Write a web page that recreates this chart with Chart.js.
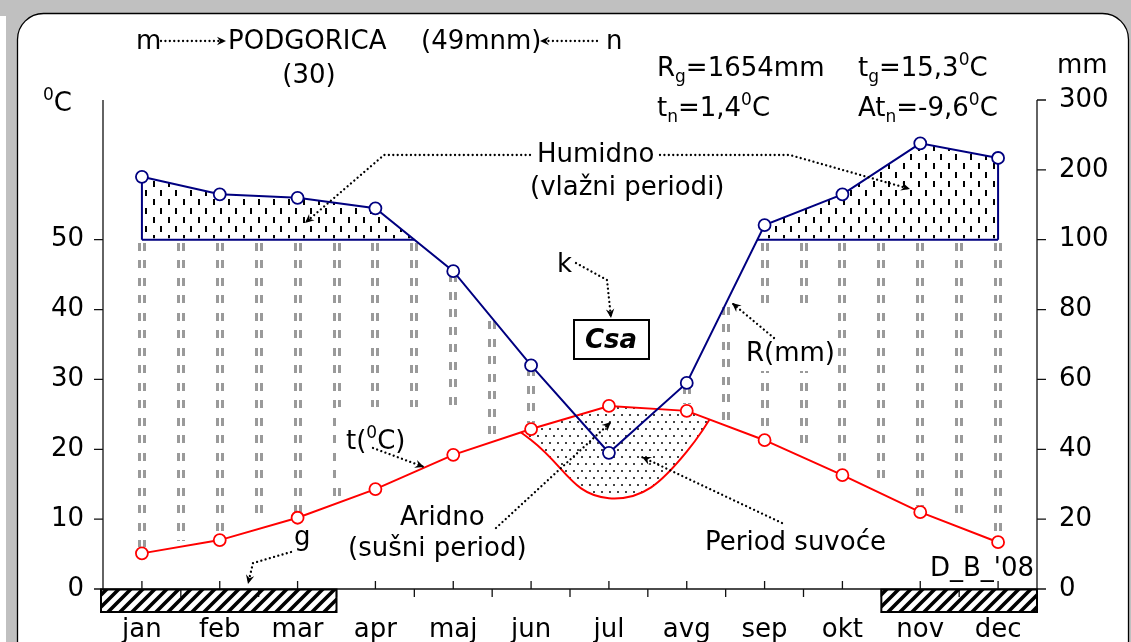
<!DOCTYPE html>
<html><head><meta charset="utf-8">
<script src="https://cdn.jsdelivr.net/npm/chart.js@4.4.1/dist/chart.umd.min.js"></script>
<style>html,body{margin:0;padding:0;background:#c0c0c0;overflow:hidden}canvas{display:block}</style>
</head><body>
<canvas id="c" width="1131" height="642"></canvas>
<script>
// ---- data ----
const months = ['jan','feb','mar','apr','maj','jun','jul','avg','sep','okt','nov','dec'];
const temperature = [5.1, 7.0, 10.2, 14.3, 19.2, 22.9, 26.2, 25.5, 21.3, 16.3, 11.0, 6.7];   // °C
const precipitation = [190, 165, 160, 145, 91, 64, 39, 59, 121, 165, 238, 217];             // mm
const frostMonths = ['jan','feb','mar','nov','dec'];
const tempTicks = [0, 10, 20, 30, 40, 50];
const precipTicks = [0, 20, 40, 60, 80, 100, 200, 300];

// Walter-Lieth scale: 20 mm = 10 °C up to 100 mm, above that 100 mm = 10 °C
const mmToUnits = p => p <= 100 ? p / 2 : 50 + (p - 100) / 10;
const precipUnits = precipitation.map(mmToUnits);
const dryCurve = precipitation.map(p => p / 3);   // 1 °C = 3 mm curve (drought period)

const FONT = 'DejaVu Sans';
Chart.defaults.font.family = FONT;
Chart.defaults.color = '#000';

function makePattern(w, h, draw) {
  const c = document.createElement('canvas'); c.width = w; c.height = h;
  const g = c.getContext('2d'); draw(g);
  return g.createPattern(c, 'repeat');
}
const ctx0 = document.getElementById('c').getContext('2d');
const humidPattern = makePattern(15, 18, g => { g.fillStyle = '#000'; g.fillRect(3, 1, 2, 6); g.fillRect(10, 10, 2, 6); });
const dotPattern = makePattern(8, 14, g => { g.fillStyle = '#444'; g.fillRect(1, 1, 2, 2); g.fillRect(5, 8, 2, 2); });
const frostPattern = makePattern(12, 12, g => {
  g.strokeStyle = '#000'; g.lineWidth = 3.6; g.beginPath();
  g.moveTo(-3, 15); g.lineTo(15, -3); g.moveTo(-3, 3); g.lineTo(3, -3); g.moveTo(9, 15); g.lineTo(15, 9); g.stroke();
});

function rich(ctx, x, y, parts, size) {
  size = size || 26;
  let cx = x;
  for (const p of parts) {
    let fs = size, dy = 0;
    if (p.s === 'sub') { fs = 17; dy = 6; }
    if (p.s === 'sup') { fs = 17; dy = -11; }
    ctx.font = (p.f || '') + fs + 'px "' + FONT + '"';
    ctx.fillText(p.t, cx, y + dy);
    cx += ctx.measureText(p.t).width;
  }
}
function text(ctx, t, x, y, align) {
  ctx.font = '26px "' + FONT + '"'; ctx.textAlign = align || 'left'; ctx.fillText(t, x, y); ctx.textAlign = 'left';
}
function arrowHead(ctx, x1, y1, x2, y2) {
  const a = Math.atan2(y2 - y1, x2 - x1), L = 9, W = 4.2;
  ctx.save(); ctx.translate(x2, y2); ctx.rotate(a);
  ctx.beginPath(); ctx.moveTo(0, 0); ctx.lineTo(-L, -W); ctx.lineTo(-L + 3, 0); ctx.lineTo(-L, W); ctx.closePath();
  ctx.fillStyle = '#000'; ctx.fill(); ctx.restore();
}
function dotted(ctx, pts, arrow) {
  ctx.save(); ctx.strokeStyle = '#000'; ctx.lineWidth = 2.3; ctx.lineCap = 'round'; ctx.setLineDash([0.01, 4.4]);
  ctx.beginPath(); ctx.moveTo(pts[0][0], pts[0][1]);
  for (let i = 1; i < pts.length; i++) ctx.lineTo(pts[i][0], pts[i][1]);
  ctx.stroke(); ctx.setLineDash([]);
  if (arrow) { const n = pts.length; arrowHead(ctx, pts[n - 2][0], pts[n - 2][1], pts[n - 1][0], pts[n - 1][1]); }
  ctx.restore();
}

const deco = {
  id: 'deco',
  beforeDraw(chart) {
    const ctx = chart.ctx, W = chart.width, H = chart.height;
    ctx.save();
    ctx.fillStyle = '#c0c0c0'; ctx.fillRect(0, 0, W, H);
    ctx.fillStyle = '#fff'; ctx.fillRect(0, 16, 6, H);
    const x = 17.5, y = 13.5, w = 1111, h = 700, r = 26;
    ctx.beginPath();
    ctx.moveTo(x + r, y); ctx.lineTo(x + w - r, y); ctx.arcTo(x + w, y, x + w, y + r, r);
    ctx.lineTo(x + w, y + h); ctx.lineTo(x, y + h); ctx.lineTo(x, y + r); ctx.arcTo(x, y, x + r, y, r); ctx.closePath();
    ctx.fillStyle = '#fff'; ctx.fill(); ctx.strokeStyle = '#000'; ctx.lineWidth = 1.3; ctx.stroke();
    ctx.restore();
  },
  beforeDatasetsDraw(chart) {
    // humid period: gray double dashed lines between precipitation (max 100 mm) and temperature
    const ctx = chart.ctx, ys = chart.scales.y;
    const pm = chart.getDatasetMeta(0).data, tm = chart.getDatasetMeta(1).data;
    const y50 = ys.getPixelForValue(50);
    ctx.save();
    ctx.fillStyle = '#9a9a9a';
    for (let k = 0; k <= 2 * (pm.length - 1); k++) {
      const i = Math.floor(k / 2), half = k % 2;
      const x = Math.round(half ? (pm[i].x + pm[i + 1].x) / 2 : pm[i].x);
      const yp = half ? (pm[i].y + pm[i + 1].y) / 2 : pm[i].y;
      const yt = half ? (tm[i].y + tm[i + 1].y) / 2 : tm[i].y;
      const top = Math.max(yp, y50) + 3, bot = yt - 6;
      for (let yy = top; yy < bot; yy += 17.5) {
        const hgt = Math.min(8, bot - yy);
        ctx.fillRect(x - 4, Math.round(yy), 3, Math.round(hgt));
        ctx.fillRect(x + 1, Math.round(yy), 3, Math.round(hgt));
      }
    }
    ctx.restore();
    // white text boxes of two labels hide the lines behind them
    ctx.save(); ctx.fillStyle = '#fff';
    ctx.fillRect(742, 309, 95, 62);
    ctx.fillRect(338, 407, 125, 72);
    ctx.restore();
  },
  beforeDatasetDraw(chart, args) {
    const ctx = chart.ctx;
    if (args.index === 0) {
      // outline of the humid (>100 mm) area
      const pm = chart.getDatasetMeta(0).data, ys = chart.scales.y, y50 = ys.getPixelForValue(50);
      ctx.save();
      ctx.strokeStyle = '#fff'; ctx.lineWidth = 3; ctx.beginPath();
      ctx.moveTo(pm[0].x, y50); ctx.lineTo(pm[pm.length - 1].x, y50); ctx.stroke();
      ctx.strokeStyle = '#000080'; ctx.lineWidth = 2; ctx.beginPath();
      for (let i = 0; i < pm.length - 1; i++) {
        const a = precipUnits[i] - 50, b = precipUnits[i + 1] - 50;
        if (a >= 0 && b >= 0) { ctx.moveTo(pm[i].x, y50); ctx.lineTo(pm[i + 1].x, y50); }
        else if (a >= 0 || b >= 0) {
          const xc = pm[i].x + (pm[i + 1].x - pm[i].x) * a / (a - b);
          if (a >= 0) { ctx.moveTo(pm[i].x, y50); ctx.lineTo(xc, y50); } else { ctx.moveTo(xc, y50); ctx.lineTo(pm[i + 1].x, y50); }
        }
      }
      const f = pm[0], l = pm[pm.length - 1];
      if (precipUnits[0] > 50) { ctx.moveTo(f.x, y50); ctx.lineTo(f.x, f.y); }
      if (precipUnits[pm.length - 1] > 50) { ctx.moveTo(l.x, y50); ctx.lineTo(l.x, l.y); }
      ctx.stroke(); ctx.restore();
    }
    if (args.index === 2) {
      // the 3 mm curve is shown only below the temperature line
      const tm = chart.getDatasetMeta(1).data, bottom = chart.chartArea.bottom + 40;
      ctx.save(); ctx.beginPath(); ctx.moveTo(tm[0].x, tm[0].y);
      for (let i = 1; i < tm.length; i++) ctx.lineTo(tm[i].x, tm[i].y);
      ctx.lineTo(tm[tm.length - 1].x, bottom); ctx.lineTo(tm[0].x, bottom); ctx.closePath(); ctx.clip();
    }
  },
  afterDatasetDraw(chart, args) { if (args.index === 2) chart.ctx.restore(); },
  afterDatasetsDraw(chart) {
    const ctx = chart.ctx, a = chart.chartArea, xs = chart.scales.x, ys = chart.scales.y;
    const step = xs.getPixelForValue(1) - xs.getPixelForValue(0);
    ctx.save();
    ctx.strokeStyle = '#111'; ctx.lineWidth = 1.3;
    ctx.beginPath();
    ctx.moveTo(a.left, a.top); ctx.lineTo(a.left, a.bottom); ctx.lineTo(a.right, a.bottom);
    ctx.moveTo(a.right, a.top); ctx.lineTo(a.right, a.bottom);
    for (const v of tempTicks) { const y = ys.getPixelForValue(v); ctx.moveTo(a.left - 9, y); ctx.lineTo(a.left, y); }
    for (const p of precipTicks) { const y = ys.getPixelForValue(mmToUnits(p)); ctx.moveTo(a.right, y); ctx.lineTo(a.right + 9, y); }
    for (let i = 0; i < months.length; i++) {
      const x = xs.getPixelForValue(i);
      ctx.moveTo(x, a.bottom); ctx.lineTo(x, a.bottom - 8);
      if (i > 0) { ctx.moveTo(x - step / 2, a.bottom); ctx.lineTo(x - step / 2, a.bottom + 8); }
    }
    ctx.stroke();
    // frost months bars
    let i = 0;
    while (i < months.length) {
      if (frostMonths.includes(months[i])) {
        let j = i; while (j + 1 < months.length && frostMonths.includes(months[j + 1])) j++;
        const x0 = xs.getPixelForValue(i) - step / 2, x1 = xs.getPixelForValue(j) + step / 2;
        const X0 = i === 0 ? x0 - 2 : x0;
        ctx.fillStyle = frostPattern; ctx.fillRect(X0, a.bottom, x1 - X0, 23);
        ctx.strokeStyle = '#000'; ctx.lineWidth = 2; ctx.strokeRect(X0, a.bottom + 0.5, x1 - X0, 22.5);
        i = j + 1;
      } else i++;
    }
    // texts
    ctx.fillStyle = '#000'; ctx.textBaseline = 'alphabetic';
    text(ctx, 'm', 136, 49);
    dotted(ctx, [[161, 41], [226, 41]], true);
    text(ctx, 'PODGORICA', 228, 49);
    text(ctx, '(49mnm)', 421, 49);
    dotted(ctx, [[597, 41], [540, 41]], true);
    text(ctx, 'n', 606, 49);
    text(ctx, '(30)', 309, 83, 'center');
    rich(ctx, 43, 111, [{t: '0', s: 'sup'}, {t: 'C'}]);
    rich(ctx, 657, 76, [{t: 'R'}, {t: 'g', s: 'sub'}, {t: '=1654mm'}]);
    rich(ctx, 858, 76, [{t: 't'}, {t: 'g', s: 'sub'}, {t: '=15,3'}, {t: '0', s: 'sup'}, {t: 'C'}]);
    text(ctx, 'mm', 1057, 73);
    rich(ctx, 657, 116, [{t: 't'}, {t: 'n', s: 'sub'}, {t: '=1,4'}, {t: '0', s: 'sup'}, {t: 'C'}]);
    rich(ctx, 858, 116, [{t: 'At'}, {t: 'n', s: 'sub'}, {t: '=-9,6'}, {t: '0', s: 'sup'}, {t: 'C'}]);
    text(ctx, 'Humidno', 537, 162);
    text(ctx, '(vlažni periodi)', 530, 195);
    dotted(ctx, [[530, 155], [384, 155], [305, 223]], true);
    dotted(ctx, [[660, 155], [790, 155], [910, 189]], true);
    text(ctx, 'k', 557, 272);
    dotted(ctx, [[576, 263], [607, 280], [611, 318]], true);
    ctx.save(); ctx.fillStyle = '#fff'; ctx.fillRect(574, 320, 75, 39); ctx.strokeStyle = '#000'; ctx.lineWidth = 2; ctx.strokeRect(574, 320, 75, 39); ctx.restore();
    ctx.font = 'italic bold 26px "' + FONT + '"'; ctx.textAlign = 'center'; ctx.fillText('Csa', 611, 348); ctx.textAlign = 'left';
    text(ctx, 'R(mm)', 746, 361);
    dotted(ctx, [[774, 338], [732, 303]], true);
    rich(ctx, 346, 449, [{t: 't('}, {t: '0', s: 'sup'}, {t: 'C)'}]);
    dotted(ctx, [[373, 448], [424, 467]], true);
    text(ctx, 'Aridno', 400, 525);
    text(ctx, '(sušni period)', 348, 556);
    dotted(ctx, [[496, 528], [611, 422]], true);
    text(ctx, 'Period suvoće', 705, 550);
    dotted(ctx, [[782, 523], [642, 457]], true);
    text(ctx, 'g', 294, 545);
    dotted(ctx, [[291, 552], [253, 563], [248, 584]], true);
    text(ctx, "D_B_'08", 930, 576);
    ctx.restore();
  }
};

new Chart(ctx0, {
  type: 'line',
  data: {
    labels: months,
    datasets: [
      { label: 'R(mm)', data: precipUnits, borderColor: '#000080', borderWidth: 2, tension: 0,
        pointRadius: 6, pointBorderWidth: 1.8, pointBackgroundColor: '#fff', pointBorderColor: '#000080',
        order: 1, fill: { target: { value: 50 }, above: humidPattern, below: 'rgba(0,0,0,0)' } },
      { label: 't(°C)', data: temperature, borderColor: '#ff0000', borderWidth: 2, tension: 0,
        pointRadius: 6, pointBorderWidth: 1.8, pointBackgroundColor: '#fff', pointBorderColor: '#ff0000',
        order: 2, fill: false },
      { label: 'P/3', data: dryCurve, borderColor: '#ff0000', borderWidth: 2, tension: 0.45, pointRadius: 0,
        order: 3, fill: { target: 1, above: 'rgba(0,0,0,0)', below: dotPattern } }
    ]
  },
  options: {
    responsive: false, animation: false, devicePixelRatio: 1,
    layout: { padding: { top: 100, left: 0, right: 0, bottom: 0 } },
    plugins: { legend: { display: false }, tooltip: { enabled: false } },
    scales: {
      x: { type: 'category', offset: true, grid: { display: false, drawTicks: false }, border: { display: false },
        ticks: { font: { size: 26 }, color: '#000', padding: 26, autoSkip: false, maxRotation: 0 },
        afterFit: s => { s.height = 53; } },
      y: { position: 'left', min: 0, max: 70, grid: { display: false, drawTicks: false }, border: { display: false },
        ticks: { font: { size: 26 }, color: '#000', padding: 19 },
        afterBuildTicks: s => { s.ticks = tempTicks.map(v => ({ value: v })); },
        afterFit: s => { s.width = 103; } },
      y2: { position: 'right', min: 0, max: 70, grid: { display: false, drawTicks: false }, border: { display: false },
        ticks: { font: { size: 26 }, color: '#000', padding: 22, callback: (v, i) => precipTicks[i] },
        afterBuildTicks: s => { s.ticks = precipTicks.map(p => ({ value: mmToUnits(p) })); },
        afterFit: s => { s.width = 94; } }
    }
  },
  plugins: [deco]
});
</script>
</body></html>
